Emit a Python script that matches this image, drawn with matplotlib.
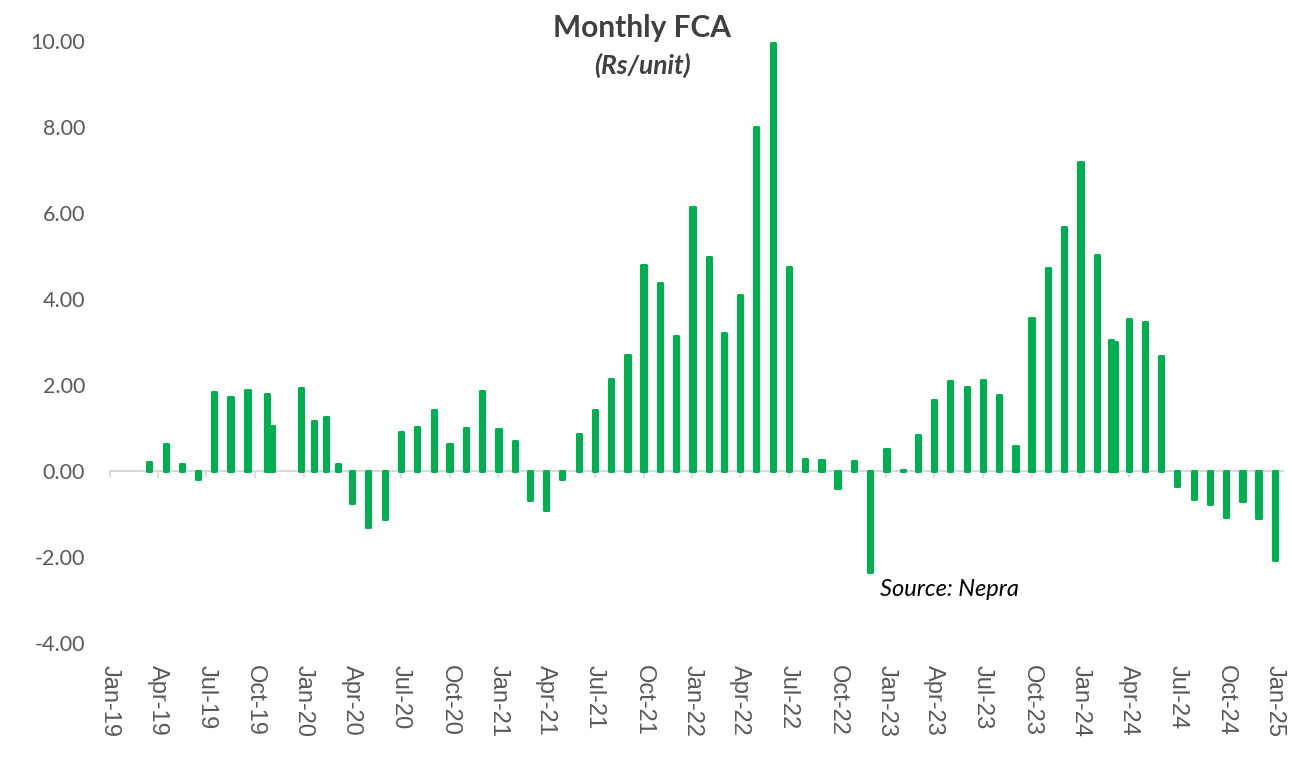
import matplotlib
matplotlib.use("Agg")
import matplotlib.pyplot as plt
import matplotlib.dates as mdates
import numpy as np
import pandas as pd

plt.rcParams['font.family'] = ['Liberation Sans', 'DejaVu Sans']

# FCA notification dates and values (Rs/unit)
dates = ['2019-03-16', '2019-04-17', '2019-05-16', '2019-06-16', '2019-07-16',
         '2019-08-16', '2019-09-17', '2019-10-24', '2019-11-01', '2019-12-26',
         '2020-01-20', '2020-02-12', '2020-03-05', '2020-04-01', '2020-05-01',
         '2020-06-01', '2020-07-01', '2020-08-01', '2020-09-01', '2020-10-01',
         '2020-11-01', '2020-12-01', '2021-01-01', '2021-02-01', '2021-03-01',
         '2021-04-01', '2021-05-01', '2021-06-01', '2021-07-01', '2021-08-01',
         '2021-09-01', '2021-10-01', '2021-11-01', '2021-12-01', '2022-01-01',
         '2022-02-01', '2022-03-01', '2022-04-01', '2022-05-01', '2022-06-01',
         '2022-07-01', '2022-08-01', '2022-09-01', '2022-10-01', '2022-11-01',
         '2022-12-01', '2023-01-01', '2023-02-01', '2023-03-01', '2023-04-01',
         '2023-05-01', '2023-06-01', '2023-07-01', '2023-08-01', '2023-09-01',
         '2023-10-01', '2023-11-01', '2023-12-01', '2024-01-01', '2024-02-01',
         '2024-02-27', '2024-03-05', '2024-04-01', '2024-05-01', '2024-06-01',
         '2024-07-01', '2024-08-01', '2024-09-01', '2024-10-01', '2024-11-01',
         '2024-12-01', '2025-01-01']
fca = [0.20, 0.62, 0.16, -0.19, 1.83,
       1.71, 1.88, 1.79, 1.05, 1.94,
       1.16, 1.26, 0.16, -0.75, -1.30,
       -1.12, 0.91, 1.03, 1.42, 0.62,
       1.01, 1.86, 0.98, 0.70, -0.67,
       -0.91, -0.19, 0.85, 1.43, 2.13,
       2.70, 4.80, 4.37, 3.14, 6.15,
       4.98, 3.20, 4.09, 8.00, 9.95,
       4.74, 0.27, 0.25, -0.39, 0.23,
       -2.36, 0.51, 0.03, 0.84, 1.65,
       2.09, 1.95, 2.12, 1.77, 0.59,
       3.57, 4.71, 5.67, 7.18, 5.02,
       3.05, 3.00, 3.53, 3.47, 2.67,
       -0.36, -0.64, -0.77, -1.08, -0.69,
       -1.10, -2.07]

x = pd.to_datetime(dates)
green = '#00B050'
grey_txt = '#595959'

fig = plt.figure(figsize=(12.92, 7.57), dpi=100)
ax = fig.add_axes([0.0851, 0.1506, 0.9079, 0.7952])

ax.bar(x, fca, width=8, color=green, edgecolor=green, linewidth=2.2,
       joinstyle='round', zorder=3)

ax.set_xlim(pd.Timestamp('2019-01-01'), pd.Timestamp('2025-01-16'))
ax.set_ylim(-4, 10)

# axis line at zero with small quarterly ticks
for s in ['top', 'right', 'left']:
    ax.spines[s].set_visible(False)
ax.spines['bottom'].set_position(('data', 0))
ax.spines['bottom'].set_color('#d9d9d9')
ax.spines['bottom'].set_linewidth(1.5)
ax.spines['bottom'].set_zorder(2)
ax.xaxis.set_major_locator(mdates.MonthLocator(bymonth=[1, 4, 7, 10]))
ax.tick_params(axis='x', direction='out', length=5, width=1.2,
               color='#d9d9d9', labelbottom=False)

# y axis labels
yticks = np.arange(-4, 11, 2)
ax.set_yticks(yticks)
ax.set_yticklabels(['%.2f' % v for v in yticks], fontfamily='Lato',
                   fontsize=15.5, color=grey_txt)
ax.tick_params(axis='y', length=0, pad=18)

# date labels at the bottom of the plot area
sec = ax.secondary_xaxis(0)
sec.xaxis.set_major_locator(mdates.MonthLocator(bymonth=[1, 4, 7, 10]))
sec.xaxis.set_major_formatter(mdates.DateFormatter('%b-%y'))
sec.spines['bottom'].set_visible(False)
sec.tick_params(axis='x', length=0, pad=16, labelsize=17, labelcolor=grey_txt,
                labelrotation=-90)

fig.text(0.497, 0.963, 'Monthly FCA', ha='center', va='center',
         fontsize=21.5, fontweight='bold', color='#404040', family='Lato')
fig.text(0.497, 0.913, '(Rs/unit)', ha='center', va='center',
         fontsize=19, fontweight='bold', style='italic', color='#404040',
         family='Lato')
fig.text(0.735, 0.221, 'Source: Nepra', ha='center', va='center',
         fontsize=17, style='italic', color='black', family='Lato')

fig.savefig('out.png', dpi=100, facecolor='white')
